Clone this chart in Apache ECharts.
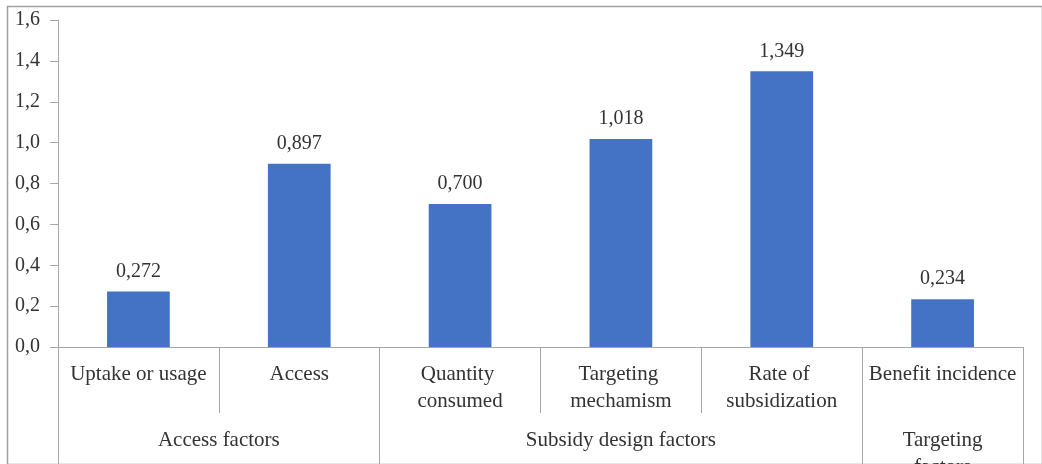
<!DOCTYPE html>
<html>
<head>
<meta charset="utf-8">
<script src="https://cdn.jsdelivr.net/npm/echarts@6/dist/echarts.min.js"></script>
<style>html,body{margin:0;padding:0;background:#fff;}#c{width:1042px;height:464px;}</style>
</head>
<body>
<div id="c"></div>
<script>
const categories = ['Uptake or usage', 'Access', 'Quantity consumed', 'Targeting mechamism', 'Rate of subsidization', 'Benefit incidence'];
const values = [0.272, 0.897, 0.700, 1.018, 1.349, 0.234];
const groups = ['Access factors', 'Subsidy design factors', 'Targeting factors'];
const groupSizes = [2, 3, 1];
const yTicks = [0, 0.2, 0.4, 0.6, 0.8, 1.0, 1.2, 1.4, 1.6];

const groupBounds = [0];
const groupCenters = [];
groupSizes.forEach((n, i) => {
  const start = groupBounds[groupBounds.length - 1];
  groupCenters.push(start + n / 2);
  groupBounds.push(start + n);
});

const FONT = '"Liberation Serif", "DejaVu Serif", serif';
const TXT = '#333333';
const LINE = '#a6a6a6';
const comma = (v, d) => v.toFixed(d).replace('.', ',');

const chart = echarts.init(document.getElementById('c'));
chart.setOption({
  animation: false,
  backgroundColor: '#ffffff',
  grid: { left: 58, right: 19, top: 20, bottom: 117, containLabel: false, outerBoundsMode: 'none' },
  graphic: [{
    type: 'rect', left: 5, top: 4, silent: true,
    shape: { width: 1035, height: 458 },
    style: { fill: 'none', stroke: '#a0a0a0', lineWidth: 1.5 }
  }],
  xAxis: [{
    type: 'category',
    data: categories,
    position: 'bottom',
    axisLine: { show: true, lineStyle: { color: LINE, width: 1 } },
    axisTick: { show: true, interval: 0, alignWithLabel: false, length: 66, lineStyle: { color: LINE } },
    axisLabel: {
      interval: 0, margin: 14, color: TXT, fontFamily: FONT, fontSize: 21,
      lineHeight: 27, width: 152, overflow: 'break', align: 'center'
    },
    splitLine: { show: false }
  }, {
    type: 'value',
    min: 0, max: categories.length,
    position: 'bottom',
    axisLine: { show: false },
    axisTick: { show: true, customValues: groupBounds, length: 117, lineStyle: { color: LINE } },
    axisLabel: {
      show: true, customValues: groupCenters, margin: 80, color: TXT, fontFamily: FONT, fontSize: 21,
      lineHeight: 27,
      formatter: function (v) {
        const i = groupCenters.findIndex(c => Math.abs(c - v) < 1e-6);
        if (i < 0) return '';
        return groupSizes[i] === 1 ? groups[i].replace(' ', '\n') : groups[i];
      }
    },
    splitLine: { show: false }
  }],
  yAxis: {
    type: 'value',
    min: yTicks[0], max: yTicks[yTicks.length - 1], interval: 0.2,
    axisLine: { show: true, lineStyle: { color: LINE } },
    axisTick: { show: true, length: 8, lineStyle: { color: LINE } },
    axisLabel: { margin: 18, color: TXT, fontFamily: FONT, fontSize: 20, formatter: v => comma(v, 1) },
    splitLine: { show: false }
  },
  series: [{
    type: 'bar',
    xAxisIndex: 0,
    data: values,
    barWidth: '39%',
    itemStyle: { color: '#4472C4' },
    label: {
      show: true, position: 'top', distance: 10, color: TXT, fontFamily: FONT, fontSize: 20,
      formatter: p => comma(p.value, 3)
    }
  }]
});
</script>
</body>
</html>
